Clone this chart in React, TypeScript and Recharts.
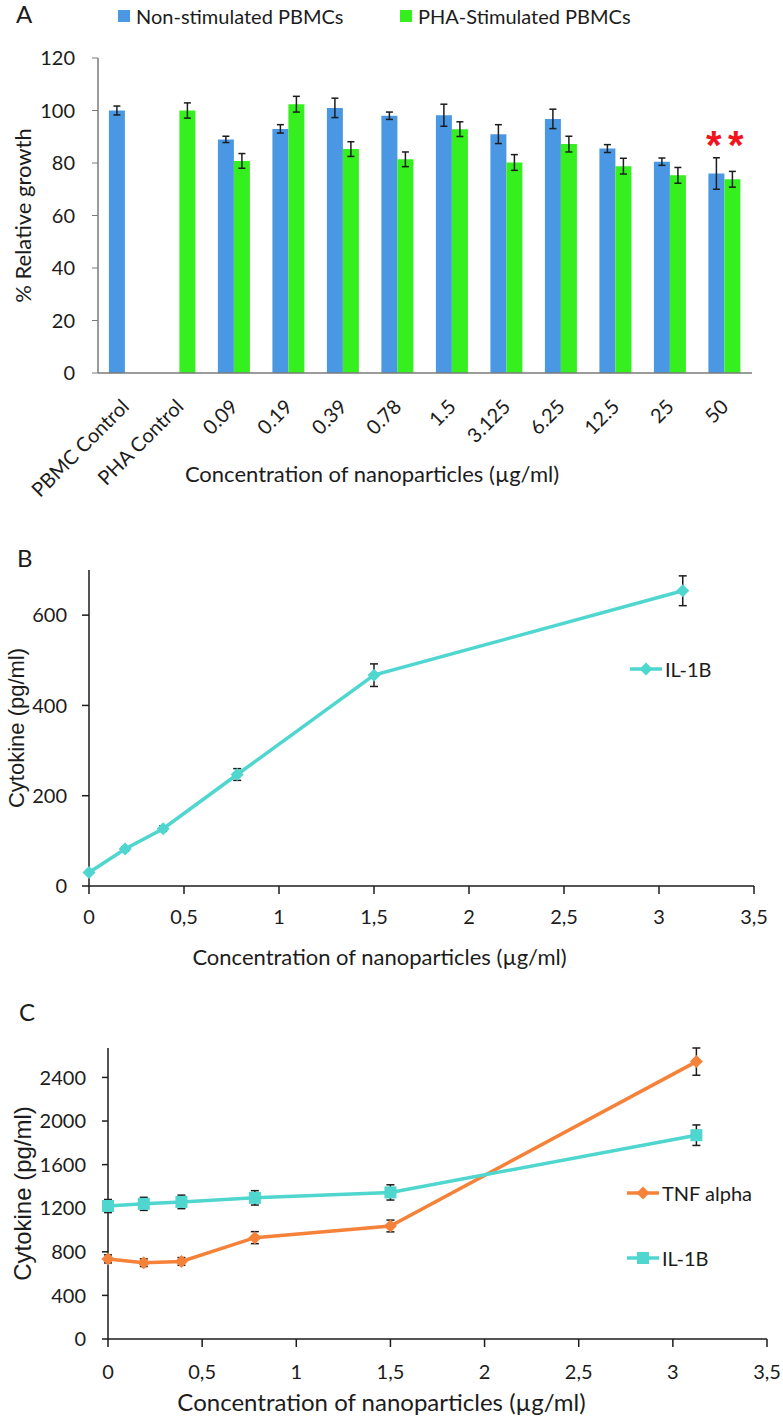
import React from "react";
import {
  BarChart,
  Bar,
  LineChart,
  Line,
  XAxis,
  YAxis,
  ErrorBar,
  Legend,
  ReferenceDot,
  Label,
} from "recharts";

// panel A: relative growth
const categories = ["PBMC Control", "PHA Control", "0.09", "0.19", "0.39", "0.78", "1.5", "3.125", "6.25", "12.5", "25", "50"];
const nonStimulated = [100, null, 89, 93, 101, 98, 98.2, 91, 96.8, 85.5, 80.5, 76];
const nonStimulatedErr = [1.7, null, 1.2, 1.6, 3.7, 1.4, 4.2, 3.6, 3.7, 1.5, 1.4, 6];
const phaStimulated = [null, 100, 80.8, 102.4, 85.3, 81.4, 92.9, 80.2, 87.2, 78.8, 75.3, 73.8];
const phaStimulatedErr = [null, 2.9, 2.8, 3, 2.8, 2.8, 2.8, 3, 3, 3, 3, 3];
const growthTicks = [0, 20, 40, 60, 80, 100, 120];
const significant = ["50"];
const starLevel = 89;

// panel B: IL-1B
const bConc = [0, 0.19, 0.39, 0.78, 1.5, 3.125];
const bIL1B = [30, 82, 127, 247, 467, 654];
const bIL1BErr = [4, 5, 6, 13, 25, 33];
const bYTicks = [0, 200, 400, 600];

// panel C: TNF alpha + IL-1B
const cConc = [0, 0.19, 0.39, 0.78, 1.5, 3.125];
const cTNF = [735, 700, 712, 930, 1037, 2545];
const cTNFErr = [37, 35, 35, 55, 54, 125];
const cIL1B = [1220, 1240, 1258, 1295, 1345, 1870];
const cIL1BErr = [60, 60, 62, 66, 70, 94];
const cYTicks = [0, 400, 800, 1200, 1600, 2000, 2400];
const cLegendOrder = ["TNF alpha", "IL-1B"];

const concTicks = [0, 0.5, 1, 1.5, 2, 2.5, 3, 3.5];

const barData = categories.map((name, i) => ({
  name,
  non: nonStimulated[i],
  nonErr: nonStimulatedErr[i],
  pha: phaStimulated[i],
  phaErr: phaStimulatedErr[i],
}));
const bData = bConc.map((x, i) => ({ x, il: bIL1B[i], ilErr: bIL1BErr[i] }));
const cData = cConc.map((x, i) => ({
  x,
  tnf: cTNF[i],
  tnfErr: cTNFErr[i],
  il: cIL1B[i],
  ilErr: cIL1BErr[i],
}));

const FONT = "Lato, 'Open Sans', sans-serif";
const SANS = "'Liberation Sans', Arial, sans-serif";
const INK = "#1c1c1c";
const GREY = "#7a7a7a";
const BLUE = "#4A98E3";
const GREEN = "#35EF1F";
const TEAL = "#4ED6CF";
const ORANGE = "#F6823A";

const comma = (v: number) => String(v).replace(".", ",");
const tickStyle = { fontFamily: FONT, fontSize: 20, fill: INK };

function RotatedTick({ x, y, payload }: any) {
  const ax = x + 5;
  const ay = y + 35;
  return (
    <text x={ax} y={ay} transform={`rotate(-45, ${ax}, ${ay})`} textAnchor="end" fontFamily={FONT} fontSize={20} fill={INK}>
      {payload.value}
    </text>
  );
}

function SquareLegend({ payload }: any) {
  return (
    <div style={{ display: "flex", fontFamily: FONT, fontSize: 20, color: INK, whiteSpace: "nowrap" }}>
      {(payload || []).map((p: any, i: number) => (
        <div key={i} style={{ display: "flex", alignItems: "center", width: i === 0 ? 282 : "auto" }}>
          <span style={{ display: "inline-block", width: 12, height: 12, background: p.color, marginRight: 6 }} />
          {p.value}
        </div>
      ))}
    </div>
  );
}

function Marker({ type, cx, cy, color, r }: any) {
  if (type === "square") {
    return <rect x={cx - r} y={cy - r} width={r * 2} height={r * 2} fill={color} />;
  }
  return <polygon points={`${cx},${cy - r} ${cx + r},${cy} ${cx},${cy + r} ${cx - r},${cy}`} fill={color} />;
}

function makeLineLegend(gap: number) {
  return function LineLegend({ payload }: any) {
    return (
      <div style={{ fontFamily: FONT, fontSize: 20, color: INK, whiteSpace: "nowrap" }}>
        {(payload || []).map((p: any, i: number) => (
          <div key={i} style={{ display: "flex", alignItems: "center", height: 24, marginBottom: gap }}>
            <svg width={32} height={16}>
              <line x1={0} y1={8} x2={32} y2={8} stroke={p.color} strokeWidth={3.5} />
              <Marker type={p.type} cx={16} cy={8} r={p.type === "square" ? 6 : 6.5} color={p.color} />
            </svg>
            <span style={{ marginLeft: 3 }}>{p.value}</span>
          </div>
        ))}
      </div>
    );
  };
}

function Stars({ cx, cy }: any) {
  return (
    <g>
      {[-11, 11].map((d) => (
        <text key={d} x={cx + d} y={cy + 20} textAnchor="middle" fill="#F2141C" fontSize={40} fontWeight="bold" fontFamily={SANS}>
          *
        </text>
      ))}
    </g>
  );
}

function PanelA() {
  return (
    <BarChart width={783} height={500} data={barData} margin={{ top: 58, right: 31, left: 0, bottom: 0 }} barCategoryGap="20%" barGap={0}>
      <XAxis dataKey="name" interval={0} height={127} tickSize={0} tickMargin={0} tick={<RotatedTick />} axisLine={{ stroke: GREY, strokeWidth: 1.5 }} tickLine={false}>
        <Label value="Concentration of nanoparticles (µg/ml)" position="insideBottom" offset={18} dx={-53} style={{ fontFamily: FONT, fontSize: 22, fill: INK }} />
      </XAxis>
      <YAxis domain={[0, 120]} ticks={growthTicks} width={98} tickSize={6} tickMargin={17} tick={tickStyle} axisLine={{ stroke: GREY, strokeWidth: 1.5 }} tickLine={{ stroke: GREY }}>
        <Label value="% Relative growth" angle={-90} position="insideLeft" offset={23} style={{ fontFamily: FONT, fontSize: 22, fill: INK, textAnchor: "middle" }} />
      </YAxis>
      <Legend layout="vertical" align="center" verticalAlign="middle" wrapperStyle={{ top: 4, left: 118, width: "auto" }} content={<SquareLegend />} />
      <Bar dataKey="non" name="Non-stimulated PBMCs" fill={BLUE} isAnimationActive={false}>
        <ErrorBar dataKey="nonErr" width={3.5} stroke={INK} strokeWidth={1.5} />
      </Bar>
      <Bar dataKey="pha" name="PHA-Stimulated PBMCs" fill={GREEN} isAnimationActive={false}>
        <ErrorBar dataKey="phaErr" width={3.5} stroke={INK} strokeWidth={1.5} />
      </Bar>
      {significant.map((c) => (
        <ReferenceDot key={c} x={c} y={starLevel} ifOverflow="visible" shape={<Stars />} />
      ))}
    </BarChart>
  );
}

function PanelB() {
  return (
    <LineChart width={783} height={440} data={bData} margin={{ top: 30, right: 29, left: 0, bottom: 0 }}>
      <XAxis dataKey="x" type="number" domain={[0, 3.5]} ticks={concTicks} tickFormatter={comma} height={94} tickSize={8} tickMargin={16} tick={tickStyle} axisLine={{ stroke: INK, strokeWidth: 1.5 }} tickLine={{ stroke: INK, strokeWidth: 1.5 }}>
        <Label value="Concentration of nanoparticles (µg/ml)" position="insideBottom" offset={15} dx={-42} style={{ fontFamily: FONT, fontSize: 22, fill: INK }} />
      </XAxis>
      <YAxis domain={[0, 700]} ticks={bYTicks} width={89} tickSize={7} tickMargin={15} tick={tickStyle} axisLine={{ stroke: INK, strokeWidth: 1.5 }} tickLine={{ stroke: INK, strokeWidth: 1.5 }}>
        <Label value="Cytokine (pg/ml)" angle={-90} position="insideLeft" offset={16} style={{ fontFamily: SANS, fontSize: 22, fill: INK, textAnchor: "middle" }} />
      </YAxis>
      <Legend layout="vertical" align="center" verticalAlign="middle" wrapperStyle={{ top: 117, left: 630, width: "auto" }} content={makeLineLegend(0)} />
      <Line
        dataKey="il"
        name="IL-1B"
        legendType="diamond"
        stroke={TEAL}
        strokeWidth={3.5}
        isAnimationActive={false}
        dot={(p: any) => <Marker key={p.index} type="diamond" cx={p.cx} cy={p.cy} r={6.5} color={TEAL} />}
        activeDot={false}
      >
        <ErrorBar dataKey="ilErr" width={4} stroke={INK} strokeWidth={1.5} direction="y" />
      </Line>
    </LineChart>
  );
}

function PanelC() {
  return (
    <LineChart width={783} height={417} data={cData} margin={{ top: 48, right: 16, left: 0, bottom: 0 }}>
      <XAxis dataKey="x" type="number" domain={[0, 3.5]} ticks={concTicks} tickFormatter={comma} height={78} tickSize={8} tickMargin={18} tick={tickStyle} axisLine={{ stroke: INK, strokeWidth: 1.5 }} tickLine={{ stroke: INK, strokeWidth: 1.5 }}>
        <Label value="Concentration of nanoparticles (µg/ml)" position="insideBottom" offset={6} dx={-56} style={{ fontFamily: FONT, fontSize: 24, fill: INK }} />
      </XAxis>
      <YAxis domain={[0, 2600]} ticks={cYTicks} width={108} tickSize={6} tickMargin={16} tick={tickStyle} axisLine={{ stroke: INK, strokeWidth: 1.5 }} tickLine={{ stroke: INK, strokeWidth: 1.5 }}>
        <Label value="Cytokine (pg/ml)" angle={-90} position="insideLeft" offset={22} style={{ fontFamily: SANS, fontSize: 24, fill: INK, textAnchor: "middle" }} />
      </YAxis>
      <Legend
        layout="vertical"
        align="center"
        verticalAlign="middle"
        itemSorter={(item: any) => cLegendOrder.indexOf(item.value)}
        wrapperStyle={{ top: 181, left: 627, width: "auto" }}
        content={makeLineLegend(41)}
      />
      <Line
        dataKey="tnf"
        name="TNF alpha"
        legendType="diamond"
        stroke={ORANGE}
        strokeWidth={3.5}
        isAnimationActive={false}
        dot={(p: any) => <Marker key={p.index} type="diamond" cx={p.cx} cy={p.cy} r={6.5} color={ORANGE} />}
        activeDot={false}
      >
        <ErrorBar dataKey="tnfErr" width={4} stroke={INK} strokeWidth={1.5} direction="y" />
      </Line>
      <Line
        dataKey="il"
        name="IL-1B"
        legendType="square"
        stroke={TEAL}
        strokeWidth={3.5}
        isAnimationActive={false}
        dot={(p: any) => <Marker key={p.index} type="square" cx={p.cx} cy={p.cy} r={6} color={TEAL} />}
        activeDot={false}
      >
        <ErrorBar dataKey="ilErr" width={4} stroke={INK} strokeWidth={1.5} direction="y" />
      </Line>
    </LineChart>
  );
}

const panelLabel = (top: number, left: number): React.CSSProperties => ({
  position: "absolute",
  top,
  left,
  fontFamily: FONT,
  fontSize: 24,
  lineHeight: "24px",
  color: INK,
});

export default function App() {
  return (
    <div style={{ position: "absolute", left: 0, top: 0, width: 783, height: 1417, background: "#fff", overflow: "hidden" }}>
      <div style={{ position: "absolute", left: 0, top: 0 }}>
        <PanelA />
      </div>
      <div style={{ position: "absolute", left: 0, top: 540 }}>
        <PanelB />
      </div>
      <div style={{ position: "absolute", left: 0, top: 1000 }}>
        <PanelC />
      </div>
      <div style={panelLabel(2, 16)}>A</div>
      <div style={panelLabel(546, 17)}>B</div>
      <div style={panelLabel(1000, 19)}>C</div>
    </div>
  );
}
